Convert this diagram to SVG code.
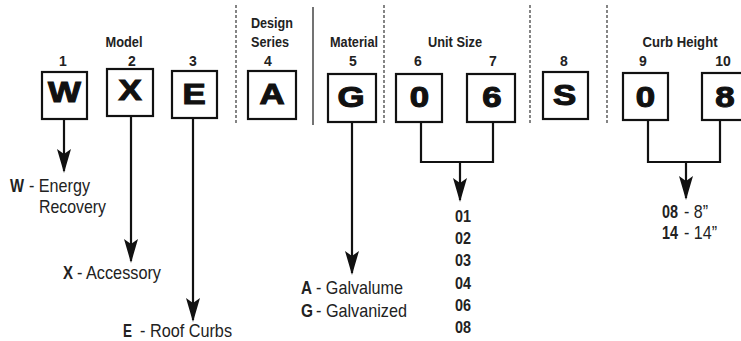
<svg xmlns="http://www.w3.org/2000/svg" width="741" height="341" viewBox="0 0 741 341">
<defs>
<style>
.box{fill:#fff;stroke:#111;stroke-width:2.2}
.big{font-family:"Liberation Sans",Arial,sans-serif;font-weight:bold;font-size:29px;text-anchor:middle;fill:#111;stroke:#111;stroke-width:1.1}
.hd{font-family:"Liberation Sans",Arial,sans-serif;font-weight:bold;font-size:15px;text-anchor:middle;fill:#222}
.num{font-family:"Liberation Sans",Arial,sans-serif;font-weight:bold;font-size:14px;text-anchor:middle;fill:#222}
.lbl{font-family:"Liberation Sans",Arial,sans-serif;font-size:19px;fill:#222}
.b{font-weight:bold}
.code{font-family:"Liberation Sans",Arial,sans-serif;font-weight:bold;font-size:17px;fill:#222}
.con{fill:none;stroke:#111;stroke-width:2.2}
.dash{stroke:#444;stroke-width:1.3;stroke-dasharray:3 2;fill:none}
.sep{stroke:#444;stroke-width:1.5;fill:none}
</style>
<marker id="ah" viewBox="0 0 24 14" refX="22" refY="7" markerWidth="24" markerHeight="14" orient="auto" markerUnits="userSpaceOnUse">
<path d="M0,0 L24,7 L0,14 L5,7 Z" fill="#111"/>
</marker>
</defs>

<g id="separators">
<line class="dash" x1="236" y1="5" x2="236" y2="123"/>
<line class="sep" x1="313" y1="7" x2="313" y2="125"/>
<line class="dash" x1="384" y1="5" x2="384" y2="123"/>
<line class="dash" x1="530" y1="5" x2="530" y2="123"/>
<line class="dash" x1="607" y1="5" x2="607" y2="123"/>
</g>

<g id="headers">
<text class="hd" x="124" y="47" textLength="37" lengthAdjust="spacingAndGlyphs">Model</text>
<text class="hd" x="272" y="28" textLength="42" lengthAdjust="spacingAndGlyphs">Design</text>
<text class="hd" x="270" y="47" textLength="38" lengthAdjust="spacingAndGlyphs">Series</text>
<text class="hd" x="354" y="47" textLength="48" lengthAdjust="spacingAndGlyphs">Material</text>
<text class="hd" x="455" y="47" textLength="54" lengthAdjust="spacingAndGlyphs">Unit Size</text>
<text class="hd" x="680" y="47" textLength="75" lengthAdjust="spacingAndGlyphs">Curb Height</text>
</g>

<g id="connectors">
<path class="con" d="M64,119 V171" marker-end="url(#ah)"/>
<path class="con" d="M131,116 V261" marker-end="url(#ah)"/>
<path class="con" d="M193,118 V320" marker-end="url(#ah)"/>
<path class="con" d="M352,122 V273" marker-end="url(#ah)"/>
<path class="con" d="M421,122 V162 H493 V122"/>
<path class="con" d="M460,162 V200" marker-end="url(#ah)"/>
<path class="con" d="M648,120 V162 H720 V120"/>
<path class="con" d="M686,162 V198" marker-end="url(#ah)"/>
</g>

<g id="n1"><text class="num" x="63" y="66">1</text><rect class="box" x="42" y="72" width="45" height="47"/><text class="big" transform="translate(64.5,102) scale(1.2,1)">W</text></g>
<g id="n2"><text class="num" x="132" y="66">2</text><rect class="box" x="107" y="69" width="46" height="47"/><text class="big" transform="translate(130,100) scale(1.2,1)">X</text></g>
<g id="n3"><text class="num" x="193" y="66">3</text><rect class="box" x="172" y="71" width="45" height="47"/><text class="big" transform="translate(194,104) scale(1.2,1)">E</text></g>
<g id="n4"><text class="num" x="268" y="66">4</text><rect class="box" x="248" y="71" width="48" height="48"/><text class="big" transform="translate(272,104) scale(1.2,1)">A</text></g>
<g id="n5"><text class="num" x="353" y="66">5</text><rect class="box" x="328" y="74" width="48" height="48"/><text class="big" transform="translate(351,106.5) scale(1.2,1)">G</text></g>
<g id="n6"><text class="num" x="418" y="66">6</text><rect class="box" x="396" y="74" width="46" height="48"/><text class="big" transform="translate(419.5,106.5) scale(1.2,1)">0</text></g>
<g id="n7"><text class="num" x="493" y="66">7</text><rect class="box" x="467" y="74" width="48" height="48"/><text class="big" transform="translate(492,106.5) scale(1.2,1)">6</text></g>
<g id="n8"><text class="num" x="564" y="66">8</text><rect class="box" x="543" y="72" width="45" height="47"/><text class="big" transform="translate(564.5,105) scale(1.2,1)">S</text></g>
<g id="n9"><text class="num" x="643" y="66">9</text><rect class="box" x="623" y="73" width="45" height="47"/><text class="big" transform="translate(645.5,107) scale(1.2,1)">0</text></g>
<g id="n10"><text class="num" x="723" y="66">10</text><rect class="box" x="702" y="73" width="46" height="47"/><text class="big" transform="translate(725,107) scale(1.2,1)">8</text></g>

<g id="labels">
<text class="lbl b" x="10" y="192" textLength="14" lengthAdjust="spacingAndGlyphs">W</text>
<text class="lbl" x="29" y="192" textLength="61" lengthAdjust="spacingAndGlyphs">- Energy</text>
<text class="lbl" x="39" y="213" textLength="67" lengthAdjust="spacingAndGlyphs">Recovery</text>
<text class="lbl b" x="63" y="279" textLength="10" lengthAdjust="spacingAndGlyphs">X</text>
<text class="lbl" x="77" y="279" textLength="84" lengthAdjust="spacingAndGlyphs">- Accessory</text>
<text class="lbl b" x="123" y="337" textLength="9" lengthAdjust="spacingAndGlyphs">E</text>
<text class="lbl" x="140" y="337" textLength="92" lengthAdjust="spacingAndGlyphs">- Roof Curbs</text>
<text class="lbl b" x="301" y="294" textLength="11" lengthAdjust="spacingAndGlyphs">A</text>
<text class="lbl" x="316" y="294" textLength="87" lengthAdjust="spacingAndGlyphs">- Galvalume</text>
<text class="lbl b" x="301" y="317" textLength="12" lengthAdjust="spacingAndGlyphs">G</text>
<text class="lbl" x="316" y="317" textLength="91" lengthAdjust="spacingAndGlyphs">- Galvanized</text>
<text class="code" x="455" y="222" textLength="16" lengthAdjust="spacingAndGlyphs">01</text>
<text class="code" x="455" y="244" textLength="16" lengthAdjust="spacingAndGlyphs">02</text>
<text class="code" x="455" y="266" textLength="16" lengthAdjust="spacingAndGlyphs">03</text>
<text class="code" x="455" y="289" textLength="16" lengthAdjust="spacingAndGlyphs">04</text>
<text class="code" x="455" y="311" textLength="16" lengthAdjust="spacingAndGlyphs">06</text>
<text class="code" x="455" y="333" textLength="16" lengthAdjust="spacingAndGlyphs">08</text>
<text class="lbl b" x="662" y="218" textLength="16" lengthAdjust="spacingAndGlyphs">08</text>
<text class="lbl" x="684" y="218" textLength="24" lengthAdjust="spacingAndGlyphs">- 8”</text>
<text class="lbl b" x="662" y="239" textLength="16" lengthAdjust="spacingAndGlyphs">14</text>
<text class="lbl" x="684" y="239" textLength="33" lengthAdjust="spacingAndGlyphs">- 14”</text>
</g>
</svg>
